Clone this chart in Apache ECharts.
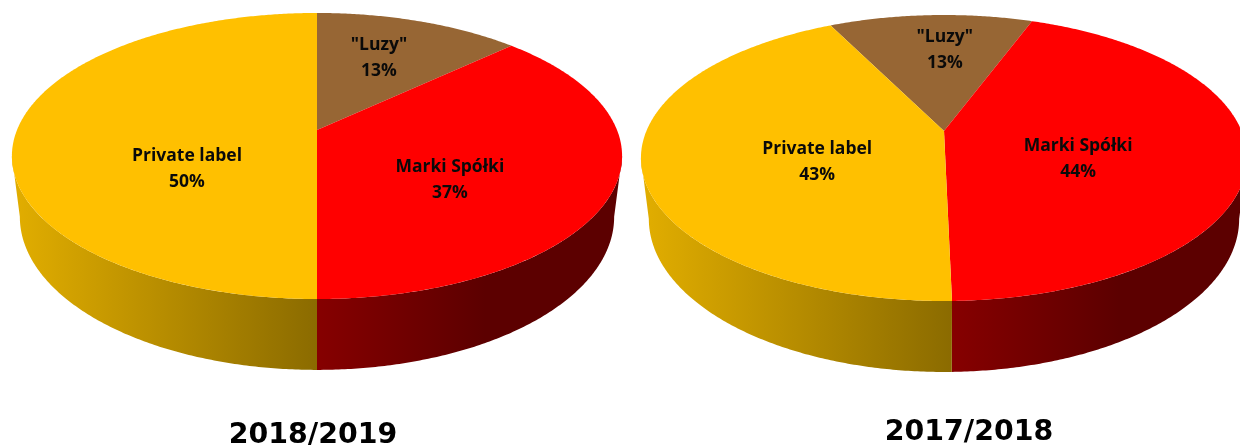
<!DOCTYPE html>
<html>
<head>
<meta charset="utf-8">
<title>Udział segmentów</title>
<script src="https://cdn.jsdelivr.net/npm/echarts@6/dist/echarts.min.js"></script>
<style>
  html, body { margin: 0; padding: 0; background: #fff; overflow: hidden; }
  #chart { width: 1240px; height: 445px; }
</style>
</head>
<body>
<div id="chart"></div>
<script>
// Segment shares in percent, clockwise from the start angle of each pie
const categories = ['"Luzy"', 'Marki Spółki', 'Private label'];
const shares1819 = [13, 37, 50];
const shares1718 = [13, 44, 43];
const seasons = ['2018/2019', '2017/2018'];

const topColors = ['#976634', '#FF0000', '#FFC000'];
const wallStops = [
  [[0, '#5C3D1E'], [1, '#5C3D1E']],
  [[0, '#860000'], [1, '#5C0000']],
  [[0, '#E2AE00'], [1, '#8B6B00']]
];

// Perspective set-up of each disc: apex position, vertical and horizontal
// reach, foreshortening, plus the start angle of the first slice.
const pieLayouts = [
  { cx: 317, apexY: 130, b: 138.3, c: 300, p: 0.1818, startDeg: 0,
    baseApexY: 189, baseB: 148, baseScale: 0.974,
    labelNudge: [[7, -13], [-10, 22], [20, 39]] },
  { cx: 944, apexY: 131, b: 137.9, c: 297.6, p: 0.1888, startDeg: -26.45,
    baseApexY: 190, baseB: 147.6, baseScale: 0.974,
    labelNudge: [[8, -18], [-15, 16], [21, 14]] }
];

// Projects a point of the unit disc (radius r, angle clockwise from the back)
function project(layout, r, deg, onBase) {
  const t = deg * Math.PI / 180;
  const u = r * Math.sin(t);
  const v = -r * Math.cos(t);
  const w = 1 - layout.p * v;
  const sx = onBase ? layout.baseScale : 1;
  const bv = onBase ? layout.baseB : layout.b;
  const y0 = onBase ? layout.baseApexY : layout.apexY;
  return [layout.cx + sx * layout.c * u / w, y0 + bv * v / w];
}

function arcPoints(layout, from, to, onBase) {
  const pts = [];
  const steps = Math.max(2, Math.ceil((to - from) * 2));
  for (let i = 0; i <= steps; i++) {
    pts.push(project(layout, 1, from + (to - from) * i / steps, onBase));
  }
  return pts;
}

function pieSeries(values, layout) {
  const total = values.reduce((a, b) => a + b, 0);
  const edges = [layout.startDeg];
  values.forEach((v, i) => edges.push(edges[i] + v / total * 360));
  // x of the seam between the two front slices, where the wall shading turns
  const seamX = project(layout, 1, edges[2], false)[0];
  const rimX = layout.c / Math.sqrt(1 - layout.p * layout.p);
  // The wall is only seen between the two side extremes of the disc
  const frontFrom = Math.acos(-layout.p) * 180 / Math.PI;
  const frontTo = 360 - frontFrom;

  return {
    type: 'custom',
    coordinateSystem: 'none',
    silent: true,
    animation: false,
    data: values.map(v => [v]),
    renderItem: function (params, api) {
      const i = params.dataIndex;
      const value = api.value(0);
      const from = edges[i];
      const to = edges[i + 1];
      const mid = (from + to) / 2;

      const children = [];
      const wallFrom = Math.max(from, frontFrom);
      const wallTo = Math.min(to, frontTo);
      if (wallTo > wallFrom) {
        const gradFrom = i === 2 ? layout.cx - rimX : seamX;
        const gradTo = i === 2 ? seamX : seamX + rimX * 0.55;
        children.push({
          type: 'polygon',
          z2: 1,
          shape: {
            points: arcPoints(layout, wallFrom, wallTo, false)
              .concat(arcPoints(layout, wallFrom, wallTo, true).reverse())
          },
          style: {
            fill: new echarts.graphic.LinearGradient(
              gradFrom, 0, gradTo, 0,
              wallStops[i].map(s => ({ offset: s[0], color: s[1] })),
              true
            )
          }
        });
      }

      children.push({
        type: 'polygon',
        z2: 2,
        shape: { points: [project(layout, 0, 0, false)].concat(arcPoints(layout, from, to, false)) },
        style: { fill: topColors[i] }
      });

      const anchor = project(layout, 0.5, mid, false);
      const nudge = layout.labelNudge[i];
      children.push({
        type: 'text',
        z2: 3,
        x: anchor[0] + nudge[0],
        y: anchor[1] + nudge[1],
        style: {
          text: categories[i] + '\n' + value + '%',
          fill: '#0A0A0A',
          align: 'center',
          verticalAlign: 'middle',
          font: 'bold 17.5px "Open Sans", sans-serif',
          lineHeight: 26
        }
      });

      return { type: 'group', children: children };
    }
  };
}

const chart = echarts.init(document.getElementById('chart'), null, { renderer: 'canvas' });
chart.setOption({
  animation: false,
  backgroundColor: '#fff',
  title: [
    { text: seasons[0], left: 313, top: 419, textAlign: 'center', padding: 0,
      textStyle: { color: '#000', fontFamily: 'DejaVu Sans', fontWeight: 'bold', fontSize: 28.4, lineHeight: 34 } },
    { text: seasons[1], left: 969, top: 416, textAlign: 'center', padding: 0,
      textStyle: { color: '#000', fontFamily: 'DejaVu Sans', fontWeight: 'bold', fontSize: 28.4, lineHeight: 34 } }
  ],
  series: [pieSeries(shares1819, pieLayouts[0]), pieSeries(shares1718, pieLayouts[1])]
});
</script>
</body>
</html>
